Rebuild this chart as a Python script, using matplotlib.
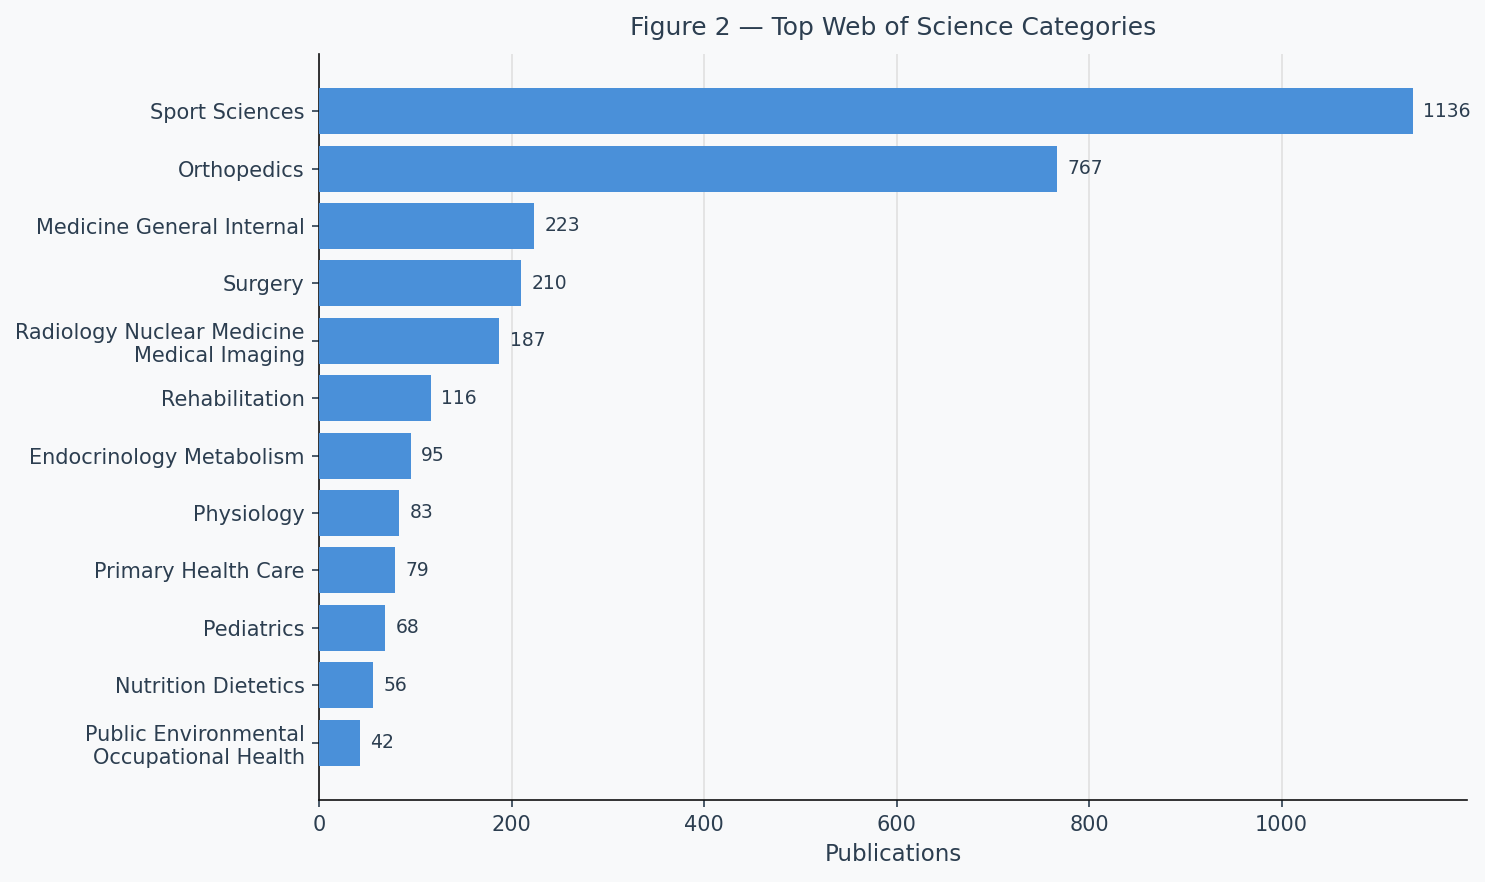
import matplotlib.pyplot as plt
import numpy as np

categories = [
    "Sport Sciences",
    "Orthopedics",
    "Medicine General Internal",
    "Surgery",
    "Radiology Nuclear Medicine\nMedical Imaging",
    "Rehabilitation",
    "Endocrinology Metabolism",
    "Physiology",
    "Primary Health Care",
    "Pediatrics",
    "Nutrition Dietetics",
    "Public Environmental\nOccupational Health",
]
publications = [1136, 767, 223, 210, 187, 116, 95, 83, 79, 68, 56, 42]

BG = '#F8F9FA'
TEXT = '#2C3E50'
BAR = '#4A90D9'

fig, ax = plt.subplots(figsize=(9.9, 5.88), dpi=150)
fig.patch.set_facecolor(BG)
ax.set_facecolor(BG)

y = np.arange(len(categories))
ax.barh(y, publications, height=0.8, color=BAR, zorder=3)
for yi, v in zip(y, publications):
    ax.text(v + 11, yi, str(v), va='center', ha='left', fontsize=9, color=TEXT)

ax.set_yticks(y)
ax.set_yticklabels(categories, fontsize=10, color=TEXT)
ax.set_ylim(len(categories), -1)
ax.set_xlim(0, max(publications) * 1.05)
ax.tick_params(axis='x', labelsize=10, colors=TEXT)
ax.tick_params(axis='y', colors=TEXT)
ax.set_xlabel("Publications", fontsize=11, color=TEXT)
ax.set_title("Figure 2 \u2014 Top Web of Science Categories", fontsize=12, color=TEXT, pad=9)

ax.grid(axis='x', color='#E0E0E0', linewidth=0.8, zorder=0)
ax.spines['top'].set_visible(False)
ax.spines['right'].set_visible(False)
ax.spines['left'].set_color('#111111')
ax.spines['bottom'].set_color('#111111')

plt.subplots_adjust(left=0.215, right=0.988, top=0.939, bottom=0.093)
plt.savefig('out.png', dpi=150, facecolor=BG)
